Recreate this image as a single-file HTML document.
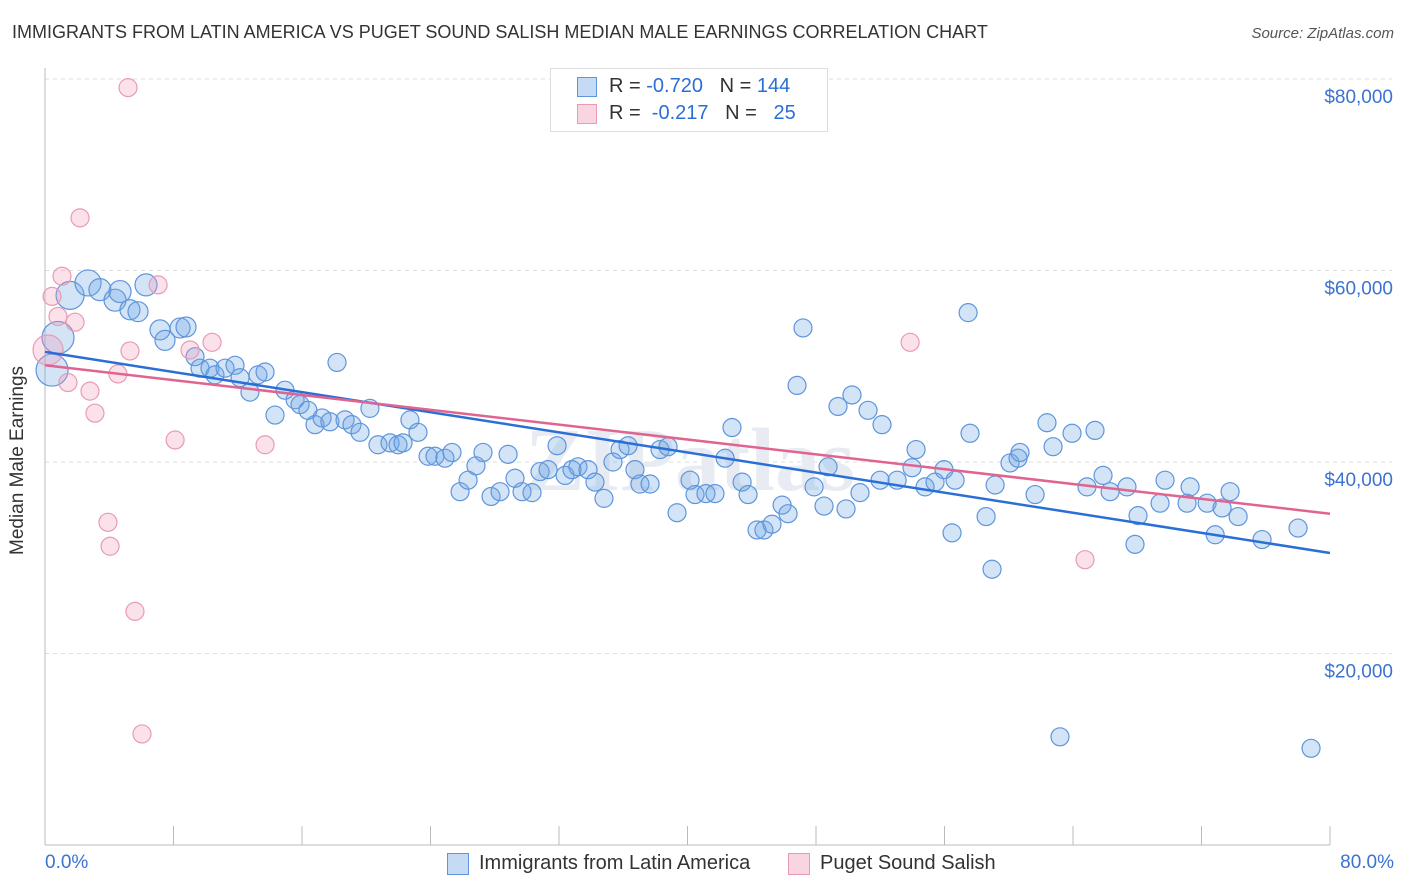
<!DOCTYPE html>
<html><head><meta charset="utf-8"><style>
body{margin:0;background:#fff;font-family:"Liberation Sans",sans-serif;}
#wrap{position:relative;width:1406px;height:892px;overflow:hidden;}
.t{position:absolute;white-space:nowrap;}
</style></head><body>
<div id="wrap">
<div class="t" style="left:12px;top:22px;font-size:18px;color:#333;">IMMIGRANTS FROM LATIN AMERICA VS PUGET SOUND SALISH MEDIAN MALE EARNINGS CORRELATION CHART</div>
<div class="t" style="right:12px;top:25px;font-size:15px;color:#555;font-style:italic;">Source: ZipAtlas.com</div>
<svg id="svg" width="1406" height="892" style="position:absolute;left:0;top:0"></svg>
</div>
<script>
const xTicksPct=[0,10,20,30,40,50,60,70,80];
const yTicks=[20000,40000,60000,80000];
const yTickLabels=["$20,000","$40,000","$60,000","$80,000"];
const blueX=[0.44,0.81,1.56,2.68,3.42,4.36,4.67,5.29,5.79,6.29,7.16,7.47,8.41,8.78,9.34,9.65,10.27,10.58,11.21,11.83,12.14,12.76,13.26,13.70,14.32,14.94,15.57,15.88,16.37,16.81,17.25,17.74,18.18,18.68,19.11,19.61,20.23,20.73,21.48,21.98,22.29,22.72,23.22,23.85,24.28,24.90,25.34,25.84,26.34,26.83,27.27,27.77,28.33,28.83,29.26,29.70,30.32,30.82,31.32,31.88,32.38,32.81,33.18,33.81,34.24,34.80,35.36,35.80,36.30,36.73,37.04,37.67,38.29,38.79,39.35,40.16,40.47,41.15,41.71,42.34,42.77,43.40,43.77,44.33,44.76,45.26,45.89,46.26,46.82,47.19,47.88,48.50,48.75,49.37,49.87,50.24,50.74,51.24,52.11,51.99,53.05,53.98,54.23,54.79,55.41,55.97,56.47,56.66,57.47,57.59,58.59,58.96,59.15,60.08,60.58,60.70,61.64,62.38,62.76,63.19,63.94,64.87,65.37,65.87,66.31,67.36,67.86,68.05,69.73,69.42,71.10,71.29,72.35,72.85,73.28,73.78,74.28,75.77,78.01,78.82];
const blueY=[49.6,53.0,57.4,58.7,58.0,56.9,57.8,55.9,55.7,58.5,53.8,52.7,54.0,54.1,51.0,49.8,49.8,49.1,49.8,50.1,48.8,47.3,49.1,49.4,44.9,47.5,46.5,46.0,45.4,43.9,44.6,44.2,50.4,44.4,43.9,43.1,45.6,41.8,42.0,41.8,42.0,44.4,43.1,40.6,40.6,40.4,41.0,36.9,38.1,39.6,41.0,36.4,36.9,40.8,38.3,36.9,36.8,39.0,39.2,41.7,38.6,39.2,39.5,39.2,37.9,36.2,40.0,41.3,41.7,39.2,37.7,37.7,41.3,41.6,34.7,38.1,36.6,36.7,36.7,40.4,43.6,37.9,36.6,32.9,32.9,33.5,35.5,34.6,48.0,54.0,37.4,35.4,39.5,45.8,35.1,47.0,36.8,45.4,43.9,38.1,38.1,39.4,41.3,37.4,37.9,39.2,32.6,38.1,55.6,43.0,34.3,28.8,37.6,39.9,40.4,41.0,36.6,44.1,41.6,11.3,43.0,37.4,43.3,38.6,36.9,37.4,31.4,34.4,38.1,35.7,35.7,37.4,35.7,32.4,35.2,36.9,34.3,31.9,33.1,10.1];
const blueR=[16,16,14,13,11,11,11,10,10,11,10,10,10,10];
const pinkX=[0.19,0.44,0.81,1.06,1.43,1.87,2.18,2.80,3.11,3.92,4.05,4.54,5.17,5.29,5.60,6.04,7.04,8.10,9.03,10.40,13.70,53.86,64.75];
const pinkY=[51.7,57.3,55.2,59.4,48.3,54.6,65.5,47.4,45.1,33.7,31.2,49.2,79.1,51.6,24.4,11.6,58.5,42.3,51.7,52.5,41.8,52.5,29.8];
const trendX=[0,80];
const trendBlue=[51.5,30.5];
const trendPink=[50.1,34.6];
const X0=45,X1=1330,Y0=845,PX_PER_K=191.5/20;
const xs=p=>X0+(p/80)*(X1-X0);
const ys=k=>Y0-k*PX_PER_K;
const NS="http://www.w3.org/2000/svg";
const svg=document.getElementById('svg');
function mk(tag,attrs,name){const e=document.createElementNS(NS,tag);for(const k in attrs)e.setAttribute(k,attrs[k]);


svg.appendChild(e);return e;}
yTicks.forEach((v,i)=>{const y=ys(v/1000);
mk('line',{x1:X0,x2:1392,y1:y,y2:y,stroke:'#ddd','stroke-dasharray':'4 4','stroke-width':1},'y-gridline');
const t=mk('text',{x:1393,y:y+24,'text-anchor':'end','font-size':19,fill:'#3b73d0','font-family':'Liberation Sans'},'y-tick-label');t.textContent=yTickLabels[i];});
mk('line',{x1:X0,x2:X0,y1:68,y2:Y0,stroke:'#bbb','stroke-width':1},'y-axis-line');
mk('line',{x1:X0,x2:X1,y1:Y0,y2:Y0,stroke:'#bbb','stroke-width':1},'x-axis-line');
for(let i=0;i<=10;i++){const x=xs(i*8);mk('line',{x1:x,x2:x,y1:826,y2:Y0,stroke:'#bbb','stroke-width':1},'x-tick');}
const wm=mk('text',{x:690,y:490,'text-anchor':'middle','font-size':90,fill:'#e8ecf2','font-family':'Liberation Serif','font-weight':'bold'},'watermark');wm.textContent='ZIPatlas';
blueX.forEach((x,i)=>{mk('circle',{cx:xs(x),cy:ys(blueY[i]),r:blueR[i]||9,fill:'rgba(110,165,230,0.3)',stroke:'#5f95dc','stroke-width':1.2},'latin-america-point');});
pinkX.forEach((x,i)=>{mk('circle',{cx:xs(x),cy:ys(pinkY[i]),r:i===0?15:9,fill:'rgba(240,150,180,0.28)',stroke:'#e99ab5','stroke-width':1.2},'puget-sound-point');});
mk('line',{x1:xs(trendX[0]),x2:xs(trendX[1]),y1:ys(trendBlue[0]),y2:ys(trendBlue[1]),stroke:'#2a6fd6','stroke-width':2.5},'latin-america-trendline');
mk('line',{x1:xs(trendX[0]),x2:xs(trendX[1]),y1:ys(trendPink[0]),y2:ys(trendPink[1]),stroke:'#e0648f','stroke-width':2.5},'puget-sound-trendline');
</script>
<div class="t" style="left:45px;top:852px;font-size:19px;color:#3b73d0">0.0%</div>
<div class="t" style="right:12px;top:852px;font-size:19px;color:#3b73d0">80.0%</div>
<div class="t" style="left:7px;top:455px;font-size:19px;color:#333;transform:rotate(-90deg);transform-origin:0 0;"><span style="position:relative;left:-100px">Median Male Earnings</span></div>
<div style="position:absolute;left:550px;top:68px;width:276px;height:62px;border:1px solid #ddd;background:#fff;font-size:20px;">
<div class="t" style="left:26px;top:8px;width:18px;height:18px;background:rgba(110,165,230,0.4);border:1px solid #5f95dc"></div>
<div class="t" style="left:58px;top:6px;color:#333">R = <span style="color:#2a6fd6">-0.720</span>&nbsp;&nbsp;&nbsp;N = <span style="color:#2a6fd6">144</span></div>
<div class="t" style="left:26px;top:35px;width:18px;height:18px;background:rgba(240,150,180,0.4);border:1px solid #e99ab5"></div>
<div class="t" style="left:58px;top:33px;color:#333">R = &nbsp;<span style="color:#2a6fd6">-0.217</span>&nbsp;&nbsp;&nbsp;N = &nbsp;&nbsp;<span style="color:#2a6fd6">25</span></div>
</div>
<div class="t" style="left:447px;top:853px;width:20px;height:20px;background:rgba(110,165,230,0.4);border:1px solid #5f95dc"></div>
<div class="t" style="left:479px;top:852px;font-size:20px;color:#333">Immigrants from Latin America</div>
<div class="t" style="left:788px;top:853px;width:20px;height:20px;background:rgba(240,150,180,0.4);border:1px solid #e99ab5"></div>
<div class="t" style="left:820px;top:852px;font-size:20px;color:#333">Puget Sound Salish</div>
</body></html>
